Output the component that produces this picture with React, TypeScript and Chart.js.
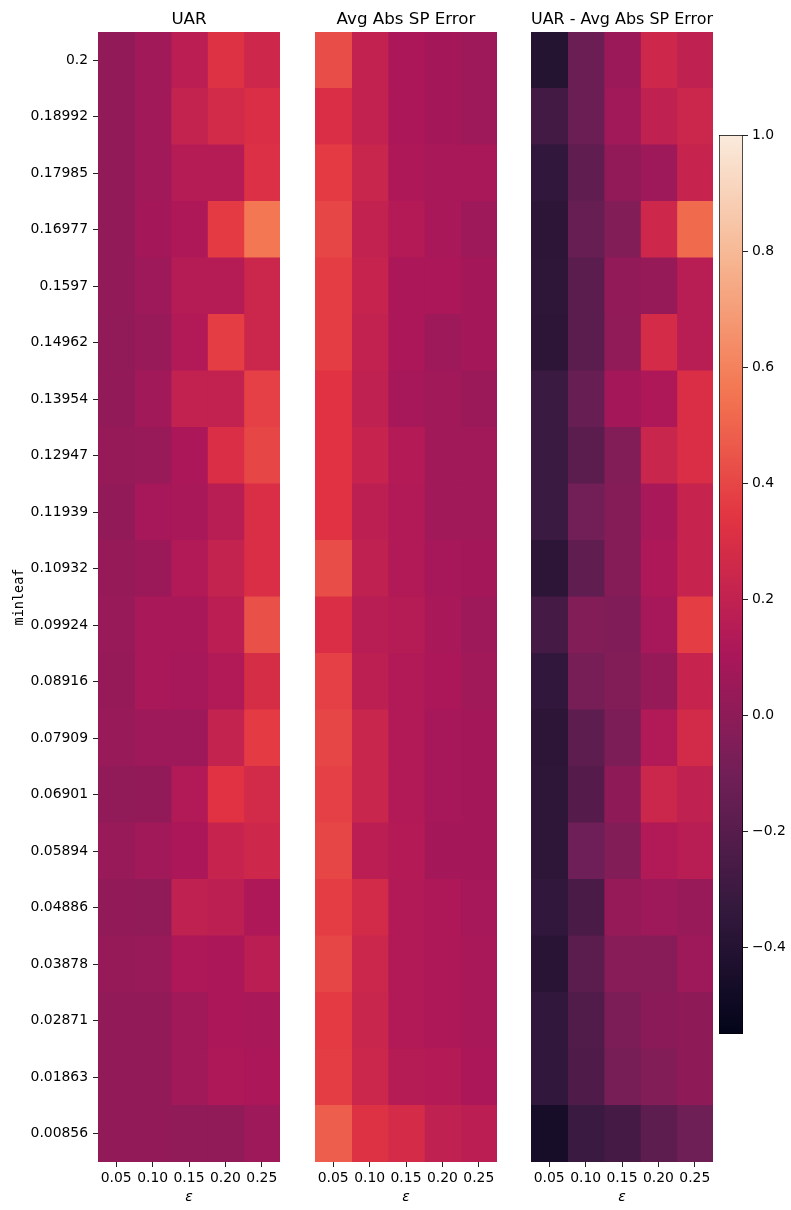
import React, { useEffect, useRef } from 'react';
import { Chart, registerables } from 'chart.js';

Chart.register(...registerables);

const minleafLabels = [
  '0.2', '0.18992', '0.17985', '0.16977', '0.1597', '0.14962', '0.13954', '0.12947', '0.11939', '0.10932',
  '0.09924', '0.08916', '0.07909', '0.06901', '0.05894', '0.04886', '0.03878', '0.02871', '0.01863', '0.00856',
];

const epsilonLabels = ['0.05', '0.10', '0.15', '0.20', '0.25'];

const uarValues = [
  [0.02, 0.07, 0.17, 0.32, 0.25],
  [0.02, 0.07, 0.21, 0.27, 0.30],
  [0.02, 0.07, 0.15, 0.15, 0.31],
  [0.02, 0.08, 0.12, 0.36, 0.56],
  [0.02, 0.06, 0.15, 0.15, 0.24],
  [0.01, 0.04, 0.13, 0.37, 0.24],
  [0.02, 0.07, 0.20, 0.20, 0.38],
  [0.03, 0.04, 0.11, 0.30, 0.40],
  [0.02, 0.09, 0.10, 0.16, 0.30],
  [0.03, 0.05, 0.13, 0.21, 0.30],
  [0.04, 0.10, 0.10, 0.17, 0.43],
  [0.03, 0.10, 0.09, 0.13, 0.29],
  [0.04, 0.06, 0.06, 0.21, 0.36],
  [0.01, 0.02, 0.13, 0.33, 0.27],
  [0.04, 0.07, 0.11, 0.22, 0.25],
  [0.02, 0.01, 0.19, 0.18, 0.12],
  [0.03, 0.04, 0.12, 0.11, 0.17],
  [0.02, 0.02, 0.07, 0.11, 0.10],
  [0.02, 0.02, 0.07, 0.12, 0.11],
  [0.02, 0.02, 0.01, 0.01, 0.06],
];

const avgAbsSpErrorValues = [
  [0.42, 0.20, 0.11, 0.08, 0.06],
  [0.30, 0.20, 0.11, 0.08, 0.06],
  [0.36, 0.23, 0.12, 0.10, 0.10],
  [0.40, 0.20, 0.14, 0.10, 0.06],
  [0.37, 0.22, 0.11, 0.11, 0.08],
  [0.37, 0.20, 0.11, 0.06, 0.08],
  [0.33, 0.19, 0.09, 0.07, 0.05],
  [0.33, 0.22, 0.14, 0.07, 0.07],
  [0.33, 0.18, 0.13, 0.07, 0.07],
  [0.42, 0.19, 0.13, 0.09, 0.08],
  [0.30, 0.16, 0.15, 0.10, 0.06],
  [0.38, 0.18, 0.13, 0.11, 0.07],
  [0.40, 0.23, 0.13, 0.09, 0.08],
  [0.38, 0.23, 0.13, 0.09, 0.08],
  [0.40, 0.17, 0.14, 0.08, 0.08],
  [0.37, 0.27, 0.13, 0.12, 0.09],
  [0.40, 0.24, 0.13, 0.12, 0.10],
  [0.36, 0.23, 0.13, 0.12, 0.10],
  [0.37, 0.24, 0.15, 0.14, 0.11],
  [0.48, 0.32, 0.28, 0.19, 0.17],
];

const uarMinusErrorValues = [
  [-0.40, -0.13, 0.05, 0.25, 0.19],
  [-0.28, -0.13, 0.07, 0.19, 0.24],
  [-0.35, -0.17, 0.02, 0.06, 0.22],
  [-0.37, -0.14, -0.04, 0.25, 0.52],
  [-0.36, -0.19, 0.02, 0.03, 0.16],
  [-0.37, -0.19, 0.01, 0.28, 0.16],
  [-0.31, -0.14, 0.08, 0.12, 0.30],
  [-0.31, -0.19, -0.04, 0.23, 0.30],
  [-0.31, -0.10, -0.03, 0.10, 0.22],
  [-0.37, -0.17, -0.03, 0.12, 0.22],
  [-0.27, -0.04, -0.05, 0.09, 0.37],
  [-0.35, -0.08, -0.04, 0.03, 0.22],
  [-0.37, -0.18, -0.06, 0.13, 0.27],
  [-0.36, -0.21, 0.00, 0.24, 0.19],
  [-0.36, -0.11, -0.04, 0.13, 0.16],
  [-0.35, -0.25, 0.03, 0.06, 0.04],
  [-0.38, -0.19, -0.02, -0.02, 0.06],
  [-0.35, -0.22, -0.06, -0.01, 0.00],
  [-0.35, -0.23, -0.08, -0.04, 0.00],
  [-0.46, -0.31, -0.27, -0.18, -0.12],
];

const colorbarTicks = [-0.4, -0.2, 0.0, 0.2, 0.4, 0.6, 0.8, 1.0];
const VMIN = -0.55;
const VMAX = 1.0;

const rocketStops: [number, [number, number, number]][] = [
  [0, [3, 5, 26]],
  [1 / 7, [53, 25, 62]],
  [2 / 7, [112, 31, 87]],
  [3 / 7, [173, 23, 89]],
  [4 / 7, [225, 51, 66]],
  [5 / 7, [243, 118, 81]],
  [6 / 7, [246, 180, 143]],
  [1, [250, 235, 221]],
];

function rocket(t: number): string {
  const x = Math.max(0, Math.min(1, t));
  for (let i = 0; i < rocketStops.length - 1; i++) {
    const [t0, c0] = rocketStops[i];
    const [t1, c1] = rocketStops[i + 1];
    if (x <= t1) {
      const f = (x - t0) / (t1 - t0);
      const c = c0.map((v, k) => Math.round(v + (c1[k] - v) * f));
      return `rgb(${c[0]},${c[1]},${c[2]})`;
    }
  }
  const c = rocketStops[rocketStops.length - 1][1];
  return `rgb(${c[0]},${c[1]},${c[2]})`;
}

function colorFor(v: number): string {
  return rocket((v - VMIN) / (VMAX - VMIN));
}

const FONT = 'DejaVu Sans';
const TICK_SIZE = 13.9;
const TITLE_SIZE = 16.7;

Chart.defaults.color = '#000';
Chart.defaults.font.family = FONT;

type PanelProps = {
  values: number[][];
  title: string;
  showY: boolean;
  canvasLeft: number;
  canvasWidth: number;
  padLeft: number;
  padRight: number;
};

function HeatmapPanel({ values, title, showY, canvasLeft, canvasWidth, padLeft, padRight }: PanelProps) {
  const ref = useRef<HTMLCanvasElement | null>(null);
  useEffect(() => {
    if (!ref.current) return;
    const chart = new Chart(ref.current, {
      type: 'bar',
      data: {
        labels: minleafLabels,
        datasets: epsilonLabels.map((eps, c) => ({
          label: eps,
          data: minleafLabels.map(() => [c, c + 1]),
          backgroundColor: values.map((row) => colorFor(row[c])),
          borderWidth: 0,
          inflateAmount: 0.6,
          grouped: false,
          categoryPercentage: 1,
          barPercentage: 1,
        })) as any,
      },
      options: {
        indexAxis: 'y',
        responsive: false,
        animation: false,
        events: [],
        layout: { padding: { left: padLeft, right: padRight, top: 0, bottom: 0 } },
        plugins: {
          legend: { display: false },
          tooltip: { enabled: false },
          title: {
            display: true,
            text: title,
            fullSize: false,
            color: '#000',
            font: { family: FONT, size: TITLE_SIZE, weight: 'normal' as any, lineHeight: 1.2 },
            padding: { top: 10, bottom: 2 },
          },
        },
        scales: {
          x: {
            type: 'linear',
            min: 0,
            max: 5,
            position: 'bottom',
            afterBuildTicks: (s: any) => {
              s.ticks = epsilonLabels.map((_, i) => ({ value: i + 0.5 }));
            },
            afterFit: (s: any) => {
              s.height = 48;
            },
            ticks: {
              autoSkip: false,
              maxRotation: 0,
              padding: 3,
              color: '#000',
              font: { family: FONT, size: TICK_SIZE },
              callback: (_v: any, i: number) => epsilonLabels[i],
            },
            grid: { drawOnChartArea: false, drawTicks: true, tickLength: 5, color: '#222', lineWidth: 1 },
            border: { display: false },
            title: {
              display: true,
              text: 'ε',
              color: '#000',
              font: { family: FONT, size: TICK_SIZE, style: 'italic' },
              padding: { top: 0, bottom: 4 },
            },
          },
          y: {
            type: 'category',
            display: showY,
            afterFit: (s: any) => {
              s.width = showY ? 98 : 0;
            },
            ticks: {
              autoSkip: false,
              padding: 5,
              color: '#000',
              font: { family: FONT, size: TICK_SIZE },
            },
            grid: { drawOnChartArea: false, drawTicks: true, offset: false, tickLength: 5, color: '#222', lineWidth: 1 },
            border: { display: false },
            title: {
              display: true,
              text: 'minleaf',
              color: '#000',
              font: { family: 'DejaVu Sans Mono', size: 13.5 },
              padding: { top: 11, bottom: 0 },
            },
          },
        },
      },
    });
    return () => chart.destroy();
  }, [values, title, showY, padLeft, padRight]);
  return (
    <canvas
      ref={ref}
      width={canvasWidth}
      height={1210}
      style={{ position: 'absolute', left: canvasLeft, top: 0, width: canvasWidth, height: 1210 }}
    />
  );
}

function Colorbar() {
  const ref = useRef<HTMLCanvasElement | null>(null);
  useEffect(() => {
    if (!ref.current) return;
    const chart = new Chart(ref.current, {
      type: 'bar',
      data: {
        labels: [''],
        datasets: [
          {
            data: [[VMIN, VMAX]] as any,
            backgroundColor: (ctx: any) => {
              const ch = ctx.chart;
              const ys = ch.scales?.y;
              if (!ys || !ch.chartArea) return '#888';
              const y0 = ys.getPixelForValue(VMIN);
              const y1 = ys.getPixelForValue(VMAX);
              const g = ch.ctx.createLinearGradient(0, y0, 0, y1);
              for (let i = 0; i <= 64; i++) {
                g.addColorStop(i / 64, rocket(i / 64));
              }
              return g;
            },
            borderColor: '#000',
            borderWidth: 1,
            borderSkipped: false,
            categoryPercentage: 1,
            barPercentage: 1,
          } as any,
        ],
      },
      options: {
        responsive: false,
        animation: false,
        events: [],
        layout: { padding: { left: 5, right: 0, top: 135, bottom: 176 } },
        plugins: { legend: { display: false }, tooltip: { enabled: false }, title: { display: false } },
        scales: {
          x: { display: false },
          y: {
            type: 'linear',
            position: 'right',
            min: VMIN,
            max: VMAX,
            afterBuildTicks: (s: any) => {
              s.ticks = colorbarTicks.map((v) => ({ value: v }));
            },
            afterFit: (s: any) => {
              s.width = 48;
            },
            ticks: {
              autoSkip: false,
              padding: 4,
              color: '#000',
              font: { family: FONT, size: TICK_SIZE },
              callback: (v: any) => {
                const n = Number(v);
                const s = Math.abs(n) < 1e-9 ? '0.0' : n.toFixed(1);
                return s.replace('-', '\u2212');
              },
            },
            grid: { drawOnChartArea: false, drawTicks: true, tickLength: 5, color: '#222', lineWidth: 1 },
            border: { display: false },
          },
        },
      },
    });
    return () => chart.destroy();
  }, []);
  return (
    <canvas
      ref={ref}
      width={77}
      height={1210}
      style={{ position: 'absolute', left: 714, top: 0, width: 77, height: 1210 }}
    />
  );
}

export default function App() {
  return (
    <div style={{ position: 'absolute', left: 0, top: 0, width: 791, height: 1210, background: '#fff', overflow: 'hidden' }}>
      <HeatmapPanel values={uarValues} title="UAR" showY={true} canvasLeft={0} canvasWidth={290} padLeft={0} padRight={10} />
      <HeatmapPanel values={avgAbsSpErrorValues} title="Avg Abs SP Error" showY={false} canvasLeft={305} canvasWidth={200} padLeft={10} padRight={8} />
      <HeatmapPanel values={uarMinusErrorValues} title="UAR - Avg Abs SP Error" showY={false} canvasLeft={521} canvasWidth={200} padLeft={10} padRight={8} />
      <Colorbar />
    </div>
  );
}
